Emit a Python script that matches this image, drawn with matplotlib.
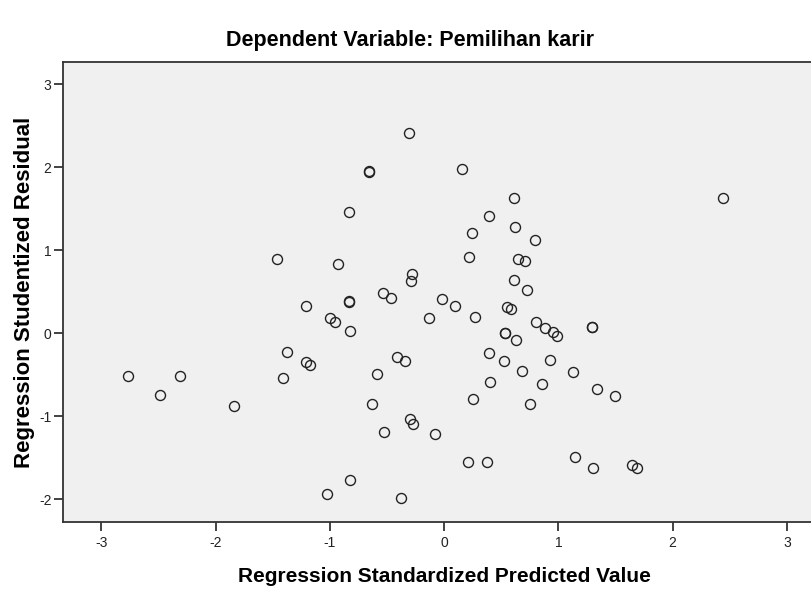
import matplotlib.pyplot as plt

# --- Data (SPSS residual scatter) ---
pred = [-0.306, -0.654, -0.654, 0.157, 0.610, -0.834, 0.396, 0.624, 0.242, 0.793,
        -0.925, 0.216, 0.650, 0.709, -0.283, -0.291, 0.610, 0.726, -1.464, 2.440,
        -1.213, -0.831, -0.831, -0.537, -0.464, -0.017, 0.099, -0.134, 0.271, 0.548,
        0.584, -1.003, -0.956, -0.822, 0.531, 0.531, 0.627, 0.800, 0.880, 0.951,
        0.991, -1.205, -1.172, -0.414, -0.341, -0.592, 0.394, 0.525, 0.925, 0.680,
        0.397, 0.855, 0.248, 0.747, -0.630, -0.295, -0.269, -0.528, -0.081, 0.210,
        0.376, -0.820, -1.024, -0.382, -1.374, -1.409, -2.767, -2.312, -2.487, -1.843,
        1.297, 1.297, 1.126, 1.341, 1.493, 1.146, 1.304, 1.642, 1.691]

resid = [2.41, 1.95, 1.96, 1.98, 1.63, 1.46, 1.42, 1.28, 1.21, 1.13,
         0.83, 0.92, 0.90, 0.875, 0.714, 0.63, 0.64, 0.518, 0.89, 1.63,
         0.333, 0.38, 0.39, 0.49, 0.43, 0.417, 0.325, 0.18, 0.20, 0.32,
         0.293, 0.188, 0.133, 0.03, 0.0, 0.01, -0.08, 0.132, 0.06, 0.012,
         -0.029, -0.346, -0.382, -0.282, -0.337, -0.49, -0.241, -0.334, -0.322, -0.454,
         -0.583, -0.615, -0.788, -0.852, -0.856, -1.036, -1.093, -1.193, -1.217, -1.547,
         -1.547, -1.767, -1.94, -1.98, -0.225, -0.542, -0.518, -0.518, -0.747, -0.88,
         0.072, 0.082, -0.47, -0.667, -0.755, -1.494, -1.627, -1.583, -1.627]

xticks = [-3, -2, -1, 0, 1, 2, 3]
yticks = [-2, -1, 0, 1, 2, 3]

plt.rcParams['font.family'] = ['Liberation Sans', 'DejaVu Sans']
plt.rcParams['axes.unicode_minus'] = False

fig = plt.figure(figsize=(8.12, 5.98), dpi=100)
ax = fig.add_axes([0.078, 0.1276, 0.938, 0.768])
ax.set_facecolor('#F0F0F0')

ax.plot(pred, resid, linestyle='', marker='o', markersize=7.2,
        markerfacecolor='none', markeredgecolor='#222222', markeredgewidth=1.0)

ax.set_xlim(-3.333, 3.333)
ax.set_ylim(-2.27, 3.265)
ax.set_xticks(xticks)
ax.set_yticks(yticks)
ax.tick_params(direction='out', length=6.5, width=1.2, labelsize=10, colors='#222222', pad=2)
ax.tick_params(axis='x', pad=4)

for side in ['left', 'bottom', 'top']:
    ax.spines[side].set_linewidth(1.3)
    ax.spines[side].set_color('#333333')
ax.spines['right'].set_visible(False)

ax.set_xlabel('Regression Standardized Predicted Value', fontsize=15, fontweight='bold', labelpad=12)
ax.set_ylabel('Regression Studentized Residual', fontsize=16, fontweight='bold', labelpad=3)
fig.text(0.505, 0.932, 'Dependent Variable: Pemilihan karir', ha='center', va='center',
         fontsize=15.5, fontweight='bold')

fig.savefig('out.png', dpi=100)
